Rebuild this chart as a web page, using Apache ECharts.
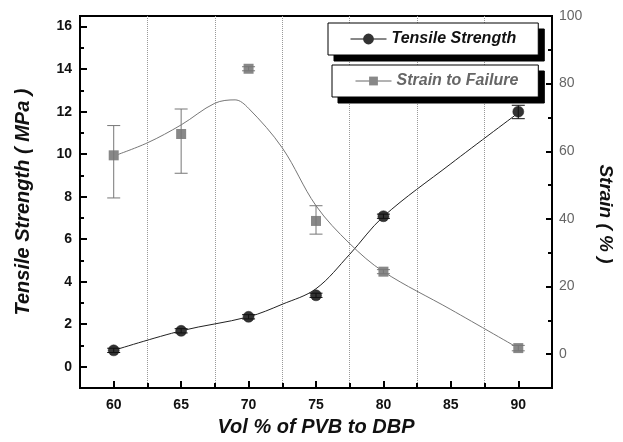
<!DOCTYPE html>
<html>
<head>
<meta charset="utf-8">
<script src="https://cdn.jsdelivr.net/npm/echarts@6/dist/echarts.min.js"></script>
<style>
    html, body { margin: 0; padding: 0; background: #fff; }
    #chart { width: 623px; height: 442px; }
</style>
</head>
<body>
<div id="chart"></div>
<script>
// measured points
const volPct      = [60, 65, 70, 75, 80, 90]
const tensile     = [0.77, 1.69, 2.35, 3.36, 7.08, 12.0]
const tensileLow  = [0.67, 1.59, 2.25, 3.26, 6.98, 11.67]
const tensileHigh = [0.87, 1.79, 2.45, 3.46, 7.18, 12.3]
const strain      = [58.8, 65.1, 84.4, 39.4, 24.4, 1.8]
const strainLow   = [46.2, 53.5, 83.8, 35.5, 23.8, 1.0]
const strainHigh  = [67.6, 72.5, 85.0, 43.9, 25.0, 2.6]

// fitted curves
const tensileFitX = [60, 65, 70, 72.5, 75, 77.5, 80, 85, 90]
const tensileFit  = [0.77, 1.69, 2.35, 2.94, 3.67, 5.29, 7.07, 9.55, 11.94]
const strainFitX  = [60, 62.5, 65, 67.5, 69, 70, 72.5, 75, 77.5, 80, 85, 90]
const strainFit   = [58.6, 62.5, 67.8, 74.2, 75.2, 72.7, 61.0, 43.9, 32.7, 24.4, 13.2, 1.8]

// tick labels
const xTicks       = [60, 65, 70, 75, 80, 85, 90]
const tensileTicks = [0, 2, 4, 6, 8, 10, 12, 14, 16]
const strainTicks  = [0, 20, 40, 60, 80, 100]

const FONT = "'Liberation Sans', Arial, sans-serif"
const zip = (xs, ys) => xs.map((x, i) => [x, ys[i]])

function errorBars(yAxisIndex, lows, highs, color) {
    return {
        type: 'custom',
        yAxisIndex,
        silent: true,
        z: 5,
        encode: { x: 0, y: [1, 2] },
        data: volPct.map((x, i) => [x, lows[i], highs[i]]),
        renderItem(params, api) {
            const lo = api.coord([api.value(0), api.value(1)])
            const hi = api.coord([api.value(0), api.value(2)])
            const w = 6.5
            const st = { stroke: color, lineWidth: 1 }
            return {
                type: 'group',
                children: [
                    { type: 'line', shape: { x1: lo[0], y1: lo[1], x2: hi[0], y2: hi[1] }, style: st },
                    { type: 'line', shape: { x1: lo[0] - w, y1: lo[1], x2: lo[0] + w, y2: lo[1] }, style: st },
                    { type: 'line', shape: { x1: hi[0] - w, y1: hi[1], x2: hi[0] + w, y2: hi[1] }, style: st },
                ],
            }
        },
    }
}

// one boxed legend per series; a black copy underneath, shifted, acts as the drop shadow
function legendBox(name, left, top, padding, textColor, markColor, shadow) {
    return {
        data: [name],
        left: shadow ? left + 6 : left,
        top: shadow ? top + 6 : top,
        z: shadow ? 3 : 4,
        orient: 'horizontal',
        itemWidth: 36,
        itemHeight: 11,
        padding,
        backgroundColor: shadow ? '#000' : '#fff',
        borderColor: '#000',
        borderWidth: 1,
        borderRadius: 0,
        selectedMode: false,
        itemStyle: { color: shadow ? '#000' : markColor, borderColor: shadow ? '#000' : markColor },
        lineStyle: { color: shadow ? '#000' : textColor, width: 1, opacity: 1 },
        textStyle: { fontFamily: FONT, fontSize: 16, fontWeight: 'bold', fontStyle: 'italic', color: shadow ? '#000' : textColor },
    }
}

const chart = echarts.init(document.getElementById('chart'))
chart.setOption({
    backgroundColor: '#fff',
    animation: false,
    textStyle: { fontFamily: FONT },
    grid: { left: 80, right: 66, top: 16, bottom: 50, show: true, borderColor: '#000', borderWidth: 2 },
    legend: [
        legendBox('Tensile Strength', 328, 23, [8, 22, 8, 22], '#111', '#333', true),
        legendBox('Strain to Failure', 332, 65, [8, 20, 8, 23], '#666', '#888', true),
        legendBox('Tensile Strength', 328, 23, [8, 22, 8, 22], '#111', '#333', false),
        legendBox('Strain to Failure', 332, 65, [8, 20, 8, 23], '#666', '#888', false),
    ],
    xAxis: [
        {
            type: 'value',
            min: 57.5, max: 92.5,
            name: 'Vol % of PVB to DBP',
            nameLocation: 'middle',
            nameGap: 29,
            nameTextStyle: { fontFamily: FONT, fontSize: 20, fontWeight: 'bold', fontStyle: 'italic', color: '#111' },
            axisLine: { onZero: false, lineStyle: { color: '#000', width: 2 } },
            axisTick: { inside: true, length: 7, customValues: xTicks, lineStyle: { color: '#000', width: 2 } },
            axisLabel: { customValues: xTicks, margin: 10, fontFamily: FONT, fontSize: 14, fontWeight: 'bold', color: '#111' },
            splitLine: { show: false },
        },
        {
            // minor ticks + dotted grid lines half way between labels
            type: 'value',
            min: 57.5, max: 92.5, interval: 5,
            position: 'bottom',
            axisLine: { show: false, onZero: false },
            axisTick: { inside: true, length: 5, lineStyle: { color: '#000', width: 2 } },
            axisLabel: { show: false },
            splitLine: { show: true, lineStyle: { color: '#999', width: 1, type: 'dotted' } },
        },
    ],
    yAxis: [
        {
            type: 'value',
            min: -1, max: 16.5,
            position: 'left',
            name: 'Tensile Strength ( MPa )',
            nameLocation: 'middle',
            nameGap: 47,
            nameTextStyle: { fontFamily: FONT, fontSize: 20, fontWeight: 'bold', fontStyle: 'italic', color: '#111' },
            axisLine: { show: true, onZero: false, lineStyle: { color: '#000', width: 2 } },
            axisTick: { show: true, inside: true, length: 7, customValues: tensileTicks, lineStyle: { color: '#000', width: 2 } },
            axisLabel: { customValues: tensileTicks, margin: 8, fontFamily: FONT, fontSize: 14, fontWeight: 'bold', color: '#111' },
            splitLine: { show: false },
        },
        {
            type: 'value',
            min: -10, max: 100,
            position: 'right',
            name: 'Strain ( % )',
            nameLocation: 'middle',
            nameRotate: -90,
            nameGap: 44,
            nameTextStyle: { fontFamily: FONT, fontSize: 19, fontWeight: 'bold', fontStyle: 'italic', color: '#111', padding: [0, 0, 0, 24] },
            axisLine: { show: true, onZero: false, lineStyle: { color: '#000', width: 2 } },
            axisTick: { show: true, inside: true, length: 6, customValues: strainTicks, lineStyle: { color: '#000', width: 2 } },
            axisLabel: { customValues: strainTicks, margin: 7, fontFamily: FONT, fontSize: 14, color: '#666' },
            splitLine: { show: false },
        },
        {
            type: 'value',
            min: -1, max: 16.5, interval: 2,
            position: 'left',
            axisLine: { show: false, onZero: false },
            axisTick: { show: true, inside: true, length: 4, lineStyle: { color: '#000', width: 2 } },
            axisLabel: { show: false },
            splitLine: { show: false },
        },
        {
            type: 'value',
            min: -10, max: 100, interval: 20,
            position: 'right',
            axisLine: { show: false, onZero: false },
            axisTick: { show: true, inside: true, length: 4, lineStyle: { color: '#000', width: 2 } },
            axisLabel: { show: false },
            splitLine: { show: false },
        },
    ],
    series: [
        {
            name: 'tensile fit',
            type: 'line',
            yAxisIndex: 0,
            data: zip(tensileFitX, tensileFit),
            smooth: 0.35,
            symbol: 'none',
            silent: true,
            lineStyle: { color: '#222', width: 1 },
        },
        {
            name: 'strain fit',
            type: 'line',
            yAxisIndex: 1,
            data: zip(strainFitX, strainFit),
            smooth: 0.35,
            symbol: 'none',
            silent: true,
            lineStyle: { color: '#777', width: 1 },
        },
        {
            name: 'Tensile Strength',
            type: 'line',
            yAxisIndex: 0,
            data: zip(volPct, tensile),
            symbol: 'circle',
            symbolSize: 11,
            showSymbol: true,
            z: 4,
            itemStyle: { color: '#333', borderColor: '#222', borderWidth: 0.5 },
            lineStyle: { opacity: 0 },
        },
        {
            name: 'Strain to Failure',
            type: 'line',
            yAxisIndex: 1,
            data: zip(volPct, strain),
            symbol: 'rect',
            symbolSize: 10,
            showSymbol: true,
            z: 4,
            itemStyle: { color: '#888' },
            lineStyle: { opacity: 0 },
        },
        errorBars(0, tensileLow, tensileHigh, '#111'),
        errorBars(1, strainLow, strainHigh, '#777'),
    ],
})
</script>
</body>
</html>
